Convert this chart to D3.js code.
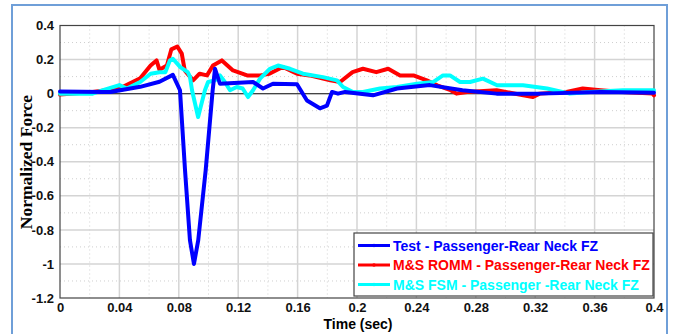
<!DOCTYPE html>
<meta charset='utf-8'>
<style>
body { margin: 0; background: #fff; }
svg { display: block; font-family: Arial, 'Liberation Sans', sans-serif; }
.tick text { font-size: 13px; font-weight: bold; fill: #111; }
.axis path, .axis line { stroke: none; }
.grid-major line { stroke: #d4d4d4; stroke-width: 1.5; }
.grid-minor line { stroke: #cfcfcf; stroke-width: 1; stroke-dasharray: 1,3; }
.series { fill: none; stroke-width: 4; stroke-linejoin: round; stroke-linecap: round; }
</style>
<svg width='676' height='334'></svg>
<script src='https://cdnjs.cloudflare.com/ajax/libs/d3/7.8.5/d3.min.js'></script>
<script>

// tick labels
var xTicks = [0, 0.04, 0.08, 0.12, 0.16, 0.2, 0.24, 0.28, 0.32, 0.36, 0.4],
    yTicks = [0.4, 0.2, 0, -0.2, -0.4, -0.6, -0.8, -1, -1.2],
    xMinor = [0.02, 0.06, 0.1, 0.14, 0.18, 0.22, 0.26, 0.3, 0.34, 0.38],
    yMinor = [0.3, 0.1, -0.1, -0.3, -0.5, -0.7, -0.9, -1.1];

var seriesNames = ['Test - Passenger-Rear Neck FZ',
                   'M&S ROMM - Passenger-Rear Neck FZ',
                   'M&S FSM - Passenger -Rear Neck FZ'],
    seriesColors = ['#0000ff', '#ff0000', '#00ffff'];

// series values: [time, normalized force]
var testData = [
  [0, 0.013], [0.029, 0.01], [0.034, 0.01], [0.054, 0.04], [0.067, 0.07], [0.076, 0.11],
  [0.0808, 0.02], [0.0842, -0.45], [0.0875, -0.86], [0.0902, -1.0], [0.0931, -0.86],
  [0.0981, -0.45], [0.1028, 0.02], [0.1044, 0.146], [0.1077, 0.058], [0.13, 0.068],
  [0.1367, 0.03], [0.1434, 0.058], [0.1596, 0.055], [0.1663, -0.04], [0.175, -0.086],
  [0.1798, -0.07], [0.1832, 0.01], [0.1872, 0.0], [0.192, 0.01], [0.2108, -0.01],
  [0.227, 0.03], [0.249, 0.05], [0.271, 0.02], [0.294, 0.0], [0.323, 0.0], [0.364, 0.01],
  [0.4, 0.005]
];
var rommData = [
  [0, -0.005], [0.022, 0.01], [0.04, 0.03], [0.054, 0.09], [0.061, 0.165], [0.065, 0.195],
  [0.067, 0.14], [0.072, 0.165], [0.075, 0.26], [0.079, 0.277], [0.082, 0.235],
  [0.084, 0.136], [0.0896, 0.078], [0.094, 0.117], [0.099, 0.107], [0.103, 0.165],
  [0.109, 0.195], [0.1165, 0.136], [0.126, 0.107], [0.135, 0.107], [0.141, 0.117],
  [0.15, 0.156], [0.1596, 0.117], [0.168, 0.107], [0.182, 0.078], [0.1886, 0.068],
  [0.197, 0.126], [0.204, 0.146], [0.213, 0.126], [0.221, 0.146], [0.229, 0.107],
  [0.238, 0.107], [0.247, 0.078], [0.254, 0.049], [0.263, 0.02], [0.267, 0.0],
  [0.274, 0.01], [0.294, 0.02], [0.312, -0.01], [0.3185, -0.02], [0.323, 0.0],
  [0.341, 0.01], [0.352, 0.03], [0.364, 0.02], [0.379, 0.01], [0.399, 0.0], [0.4, -0.01]
];
var fsmData = [
  [0, 0], [0.022, 0], [0.029, 0.02], [0.04, 0.05], [0.045, 0.03], [0.054, 0.068],
  [0.061, 0.117], [0.067, 0.126], [0.071, 0.126], [0.074, 0.195], [0.076, 0.205],
  [0.081, 0.156], [0.086, 0.126], [0.0875, 0.1], [0.0889, 0.02], [0.093, -0.137],
  [0.0976, 0.02], [0.0997, 0.068], [0.1044, 0.078], [0.1077, 0.107], [0.111, 0.068],
  [0.1145, 0.02], [0.119, 0.039], [0.123, 0.03], [0.1266, -0.02], [0.13, 0.02],
  [0.1347, 0.088], [0.1414, 0.146], [0.1468, 0.165], [0.1549, 0.146], [0.1636, 0.117],
  [0.1771, 0.097], [0.1865, 0.078], [0.1906, 0.039], [0.1973, 0.01], [0.204, 0.01],
  [0.2155, 0.03], [0.227, 0.039], [0.2404, 0.058], [0.2512, 0.068], [0.2579, 0.107],
  [0.2626, 0.107], [0.2694, 0.068], [0.2761, 0.068], [0.2848, 0.088], [0.2943, 0.049],
  [0.3118, 0.049], [0.328, 0.03], [0.3434, 0.0], [0.3569, 0.01], [0.3791, 0.02], [0.4, 0.02]
];
var allSeries = [testData, rommData, fsmData];

var svg = d3.select('svg'),
    plotL = 60, plotR = 654, plotT = 25.5, plotB = 298;

var x = d3.scaleLinear().domain([0, 0.4]).range([plotL, plotR]),
    y = d3.scaleLinear().domain([-1.2, 0.4]).range([plotB, plotT]);

// outer frame
svg.append('rect')
    .attr('x', 12).attr('y', 5).attr('width', 655).attr('height', 345)
    .attr('fill', '#fff').attr('stroke', '#6f9fd8').attr('stroke-width', 2);

// minor dotted grid
var gMin = svg.append('g').attr('class', 'grid-minor');
gMin.selectAll('line.v').data(xMinor).join('line').attr('class', 'v')
    .attr('x1', d => x(d)).attr('x2', d => x(d)).attr('y1', plotT).attr('y2', plotB);
gMin.selectAll('line.h').data(yMinor).join('line').attr('class', 'h')
    .attr('x1', plotL).attr('x2', plotR).attr('y1', d => y(d)).attr('y2', d => y(d));

// major grid
var gMaj = svg.append('g').attr('class', 'grid-major');
gMaj.selectAll('line.v').data(xTicks.slice(1, -1)).join('line').attr('class', 'v')
    .attr('x1', d => x(d)).attr('x2', d => x(d)).attr('y1', plotT).attr('y2', plotB);
gMaj.selectAll('line.h').data(yTicks.slice(1, -1)).join('line').attr('class', 'h')
    .attr('x1', plotL).attr('x2', plotR).attr('y1', d => y(d)).attr('y2', d => y(d));

// zero line
svg.append('line')
    .attr('x1', plotL).attr('x2', plotR).attr('y1', y(0)).attr('y2', y(0))
    .attr('stroke', '#444').attr('stroke-width', 1.2);

// plot border
svg.append('rect')
    .attr('x', plotL).attr('y', plotT).attr('width', plotR - plotL).attr('height', plotB - plotT)
    .attr('fill', 'none').attr('stroke', '#444').attr('stroke-width', 1.2);

// axes
svg.append('g').attr('class', 'axis')
    .attr('transform', `translate(0,${plotB})`)
    .call(d3.axisBottom(x).tickValues(xTicks).tickFormat(d => String(d)).tickSize(3).tickPadding(2));
svg.append('g').attr('class', 'axis')
    .attr('transform', `translate(${plotL},0)`)
    .call(d3.axisLeft(y).tickValues(yTicks).tickFormat(d => String(d)).tickSize(2).tickPadding(4));

// series
var line = d3.line().x(d => x(d[0])).y(d => y(d[1]));
svg.append('g').selectAll('path').data([rommData, fsmData, testData]).join('path')
    .attr('class', 'series')
    .attr('stroke', d => seriesColors[allSeries.indexOf(d)])
    .attr('d', line);

// axis titles
svg.append('text')
    .attr('x', 358).attr('y', 329)
    .attr('text-anchor', 'middle')
    .style('font-size', '14px').style('font-weight', 'bold')
    .text('Time (sec)');
svg.append('text')
    .attr('transform', 'translate(32,162) rotate(-90)')
    .attr('text-anchor', 'middle')
    .style('font-family', "'Liberation Serif', 'DejaVu Serif', serif")
    .style('font-size', '17.5px').style('font-weight', 'bold')
    .text('Normalized Force');

// legend
var legend = svg.append('g').attr('transform', 'translate(354,233)');
legend.append('rect')
    .attr('width', 299).attr('height', 63)
    .attr('fill', '#fff').attr('stroke', '#444').attr('stroke-width', 1.2);
var items = legend.selectAll('g.item').data(seriesNames).join('g')
    .attr('class', 'item')
    .attr('transform', (d, i) => `translate(0,${12.5 + i * 19.5})`);
items.append('line')
    .attr('x1', 4).attr('x2', 36).attr('y1', 0).attr('y2', 0)
    .attr('stroke', (d, i) => seriesColors[i]).attr('stroke-width', 3);
items.append('circle')
    .attr('cx', 20).attr('cy', 0).attr('r', 1.8)
    .attr('fill', (d, i) => seriesColors[i]);
items.append('text')
    .attr('x', 39).attr('y', 5)
    .attr('fill', (d, i) => seriesColors[i])
    .style('font-size', '14px').style('font-weight', 'bold')
    .text(d => d);
</script>
